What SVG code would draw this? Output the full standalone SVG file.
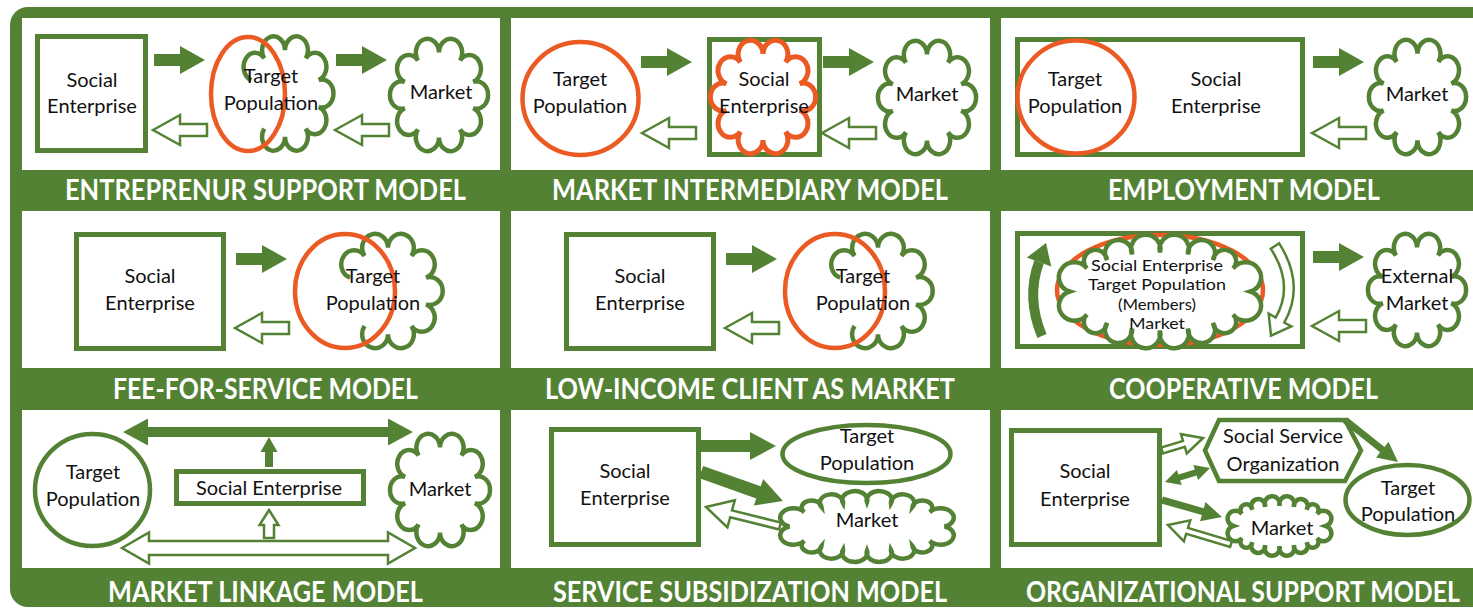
<svg xmlns="http://www.w3.org/2000/svg" width="1473" height="609" viewBox="0 0 1473 609">
<style>
.bg{fill:#548235}
.panel{fill:#fff}
.box{fill:#fff;stroke:#548235;stroke-width:5}
.gline{fill:#fff;stroke:#548235;stroke-width:4.5}
.gnone{fill:none;stroke:#548235;stroke-width:4.5}
.oline{fill:#fff;stroke:#EB5A23;stroke-width:4.5}
.onone{fill:none;stroke:#EB5A23;stroke-width:4.5}
.ocl{fill:#fff;stroke:#EB5A23;stroke-width:5}
.solid{fill:#548235}
.hollow{fill:#fff;stroke:#548235;stroke-width:2.5}
.thick{fill:none;stroke:#548235;stroke-width:10}
.t{font-family:Lato,"Open Sans","Liberation Sans",sans-serif;font-size:20px;fill:#111;text-anchor:middle}
.ts{font-size:16px}
.title{font-family:Lato,"Open Sans","Liberation Sans",sans-serif;font-weight:700;font-size:28px;fill:#fff}
</style>
<defs>
<path id="cloud" vector-effect="non-scaling-stroke" d="M0,-38 A12.3,12.3 0 1 1 22.34,-30.74 A12.3,12.3 0 1 1 36.14,-11.74 A12.3,12.3 0 1 1 36.14,11.74 A12.3,12.3 0 1 1 22.34,30.74 A12.3,12.3 0 1 1 0,38 A12.3,12.3 0 1 1 -22.34,30.74 A12.3,12.3 0 1 1 -36.14,11.74 A12.3,12.3 0 1 1 -36.14,-11.74 A12.3,12.3 0 1 1 -22.34,-30.74 A12.3,12.3 0 1 1 0,-38 Z"/>
<path id="cloudo" vector-effect="non-scaling-stroke" d="M-36.14,-11.74 A12.3,12.3 0 1 1 -22.34,-30.74 A12.3,12.3 0 1 1 0,-38 A12.3,12.3 0 1 1 22.34,-30.74 A12.3,12.3 0 1 1 36.14,-11.74 A12.3,12.3 0 1 1 36.14,11.74 A12.3,12.3 0 1 1 22.34,30.74 A12.3,12.3 0 1 1 0,38 A12.3,12.3 0 1 1 -22.34,30.74"/>
<path id="cloudw" vector-effect="non-scaling-stroke" d="M0,-36 A13,13 0 1 1 24.72,-34.24 A12,12 0 1 1 47.02,-29.12 A10.2,10.2 0 1 1 64.72,-21.16 A13.7,13.7 0 1 1 80,0 A13.7,13.7 0 1 1 64.72,21.16 A10.2,10.2 0 1 1 47.02,29.12 A12,12 0 1 1 24.72,34.24 A13,13 0 1 1 0,36 A13,13 0 1 1 -24.72,34.24 A12,12 0 1 1 -47.02,29.12 A10.2,10.2 0 1 1 -64.72,21.16 A13.7,13.7 0 1 1 -80,0 A13.7,13.7 0 1 1 -64.72,-21.16 A10.2,10.2 0 1 1 -47.02,-29.12 A12,12 0 1 1 -24.72,-34.24 A13,13 0 1 1 0,-36 Z"/>
<polygon id="arrR" points="0,-6 26,-6 26,-14 51,0 26,14 26,6 0,6"/>
<polygon id="arrL" points="0,0 27,-15 27,-6 54,-6 54,6 27,6 27,15"/>
</defs>

<rect x="0" y="0" width="1473" height="609" fill="#fff"/>
<rect class="bg" x="10" y="7" width="1500" height="600" rx="18"/>
<g id="panels">
<rect class="panel" x="22" y="18" width="478" height="152"/>
<rect class="panel" x="511" y="18" width="479" height="152"/>
<rect class="panel" x="1001" y="18" width="480" height="152"/>
<rect class="panel" x="22" y="211" width="478" height="157"/>
<rect class="panel" x="511" y="211" width="479" height="157"/>
<rect class="panel" x="1001" y="211" width="480" height="157"/>
<rect class="panel" x="22" y="410" width="478" height="158"/>
<rect class="panel" x="511" y="410" width="479" height="158"/>
<rect class="panel" x="1001" y="410" width="480" height="158"/>
</g>
<g id="titles">
<text class="title" x="65" y="200" textLength="401" lengthAdjust="spacingAndGlyphs">ENTREPRENUR SUPPORT MODEL</text>
<text class="title" x="552" y="200" textLength="396" lengthAdjust="spacingAndGlyphs">MARKET INTERMEDIARY MODEL</text>
<text class="title" x="1108" y="200" textLength="272" lengthAdjust="spacingAndGlyphs">EMPLOYMENT MODEL</text>
<text class="title" x="113" y="399" textLength="305" lengthAdjust="spacingAndGlyphs">FEE-FOR-SERVICE MODEL</text>
<text class="title" x="545" y="399" textLength="410" lengthAdjust="spacingAndGlyphs">LOW-INCOME CLIENT AS MARKET</text>
<text class="title" x="1109" y="399" textLength="269" lengthAdjust="spacingAndGlyphs">COOPERATIVE MODEL</text>
<text class="title" x="108" y="602" textLength="315" lengthAdjust="spacingAndGlyphs">MARKET LINKAGE MODEL</text>
<text class="title" x="553" y="602" textLength="394" lengthAdjust="spacingAndGlyphs">SERVICE SUBSIDIZATION MODEL</text>
<text class="title" x="1026" y="602" textLength="434" lengthAdjust="spacingAndGlyphs">ORGANIZATIONAL SUPPORT MODEL</text>
</g>

<!-- Row 1 Panel 1 -->
<g id="p1-se"><rect class="box" x="37.5" y="36.5" width="108" height="114"/><text class="t" x="92" y="87">Social</text><text class="t" x="92" y="113">Enterprise</text></g>
<g id="p1-tp"><use href="#cloudo" class="gnone" transform="translate(285,93.5) scale(0.93,1.14)"/><ellipse class="onone" cx="248" cy="94" rx="37" ry="57"/><text class="t" x="271" y="83">Target</text><text class="t" x="271" y="110">Population</text></g>
<g id="p1-mk"><use href="#cloud" class="gline" transform="translate(439,95) scale(0.942,1.12)"/><text class="t" x="441" y="99">Market</text></g>

<!-- Row 1 Panel 2 -->
<g id="p2-tp"><ellipse class="oline" cx="580.5" cy="98.5" rx="58" ry="56.5"/><text class="t" x="580" y="86">Target</text><text class="t" x="580" y="113">Population</text></g>
<g id="p2-se"><rect class="box" x="709.5" y="39.5" width="110" height="115"/><use href="#cloud" class="ocl" transform="translate(763,97) scale(1.01,1.13)"/><text class="t" x="764" y="86">Social</text><text class="t" x="764" y="113">Enterprise</text></g>
<g id="p2-mk"><use href="#cloud" class="gline" transform="translate(927,97.5) scale(0.942,1.13)"/><text class="t" x="927" y="101">Market</text></g>

<!-- Row 1 Panel 3 -->
<g id="p3-se"><rect class="box" x="1017.5" y="39.5" width="285" height="115"/><ellipse class="oline" cx="1076" cy="97" rx="58.5" ry="56.5"/><text class="t" x="1075" y="86">Target</text><text class="t" x="1075" y="113">Population</text><text class="t" x="1216" y="86">Social</text><text class="t" x="1216" y="113">Enterprise</text></g>
<g id="p3-mk"><use href="#cloud" class="gline" transform="translate(1417.5,97) scale(0.933,1.14)"/><text class="t" x="1417" y="101">Market</text></g>

<!-- Row 2 Panel 1 -->
<g id="p4-se"><rect class="box" x="76.5" y="234.5" width="147" height="114"/><text class="t" x="150" y="283">Social</text><text class="t" x="150" y="310">Enterprise</text></g>
<g id="p4-tp"><use href="#cloudo" class="gnone" transform="translate(388,291) scale(1.05,1.14)"/><ellipse class="onone" cx="345" cy="291" rx="50" ry="57"/><text class="t" x="373" y="283">Target</text><text class="t" x="373" y="310">Population</text></g>

<!-- Row 2 Panel 2 -->
<g id="p5-se"><rect class="box" x="566.5" y="234.5" width="147" height="114"/><text class="t" x="640" y="283">Social</text><text class="t" x="640" y="310">Enterprise</text></g>
<g id="p5-tp"><use href="#cloudo" class="gnone" transform="translate(878,291) scale(1.05,1.14)"/><ellipse class="onone" cx="835" cy="291" rx="50" ry="57"/><text class="t" x="863" y="283">Target</text><text class="t" x="863" y="310">Population</text></g>

<!-- Row 2 Panel 3 -->
<g id="p6-coop"><rect class="box" x="1017.5" y="233.5" width="285" height="113"/><ellipse class="oline" cx="1160" cy="290" rx="103" ry="55"/><use href="#cloudw" class="gline" transform="translate(1160,291.5) scale(1.13,1.09)"/>
<text class="t ts" x="1157" y="271" textLength="132" lengthAdjust="spacingAndGlyphs">Social Enterprise</text><text class="t ts" x="1157" y="290.3" textLength="138" lengthAdjust="spacingAndGlyphs">Target Population</text><text class="t ts" x="1157" y="309.6" textLength="78" lengthAdjust="spacingAndGlyphs">(Members)</text><text class="t ts" x="1157" y="328.9" textLength="56" lengthAdjust="spacingAndGlyphs">Market</text></g>
<g id="p6-mk"><use href="#cloud" class="gline" transform="translate(1417,290) scale(0.942,1.12)"/><text class="t" x="1417" y="283">External</text><text class="t" x="1417" y="310">Market</text></g>

<!-- Row 3 Panel 1 -->
<g id="p7-tp"><ellipse class="gline" cx="92.5" cy="490" rx="57.5" ry="56"/><text class="t" x="93" y="479">Target</text><text class="t" x="93" y="506">Population</text></g>
<g id="p7-se"><rect class="box" x="176.5" y="471.5" width="187" height="32"/><text class="t" x="269" y="495">Social Enterprise</text></g>
<g id="p7-mk"><use href="#cloud" class="gline" transform="translate(440,490) scale(0.96,1.12)"/><text class="t" x="440" y="496">Market</text></g>

<!-- Row 3 Panel 2 -->
<g id="p8-se"><rect class="box" x="551.5" y="429.5" width="147" height="115"/><text class="t" x="625" y="478">Social</text><text class="t" x="625" y="505">Enterprise</text></g>
<g id="p8-tp"><ellipse class="gline" cx="866.5" cy="454" rx="84" ry="29"/><text class="t" x="867" y="443">Target</text><text class="t" x="867" y="470">Population</text></g>
<g id="p8-mk"><use href="#cloudw" class="gline" transform="translate(867,526.5) scale(0.97,0.68)"/><text class="t" x="867" y="527">Market</text></g>

<!-- Row 3 Panel 3 -->
<g id="p9-se"><rect class="box" x="1011.5" y="430.5" width="148" height="114"/><text class="t" x="1085" y="478">Social</text><text class="t" x="1085" y="506">Enterprise</text></g>
<g id="p9-sso"><polygon class="gline" points="1205,450.5 1219,420 1345,420 1361,450.5 1345,481 1219,481"/><text class="t" x="1283" y="443">Social Service</text><text class="t" x="1283" y="471">Organization</text></g>
<g id="p9-tp"><ellipse class="gline" cx="1407.5" cy="500" rx="62" ry="35"/><text class="t" x="1408" y="495">Target</text><text class="t" x="1408" y="521">Population</text></g>
<g id="p9-mk"><use href="#cloudw" class="gline" transform="translate(1279.5,526) scale(0.58,0.57)"/><text class="t" x="1282" y="535">Market</text></g>

<g id="connectors">
<use href="#arrR" class="solid" transform="translate(154,60)"/>
<use href="#arrR" class="solid" transform="translate(336,60)"/>
<use href="#arrL" class="hollow" transform="translate(153,130)"/>
<use href="#arrL" class="hollow" transform="translate(335,130)"/>
<use href="#arrR" class="solid" transform="translate(641,62)"/>
<use href="#arrR" class="solid" transform="translate(823,62)"/>
<use href="#arrL" class="hollow" transform="translate(642,133)"/>
<use href="#arrL" class="hollow" transform="translate(822,133)"/>
<use href="#arrR" class="solid" transform="translate(1313,62)"/>
<use href="#arrL" class="hollow" transform="translate(1312,133)"/>
<use href="#arrR" class="solid" transform="translate(236,259)"/>
<use href="#arrL" class="hollow" transform="translate(235,328)"/>
<use href="#arrR" class="solid" transform="translate(726,259)"/>
<use href="#arrL" class="hollow" transform="translate(725,328)"/>
<use href="#arrR" class="solid" transform="translate(1313,257)"/>
<use href="#arrL" class="hollow" transform="translate(1312,326)"/>
<!-- cooperative cycle -->
<path class="thick" d="M1042,336 Q1026,298 1039,262"/>
<polygon class="solid" points="1046,243 1026.8,257.6 1051.2,266.4"/>
<path class="hollow" d="M1270.8,248.7 L1279.2,243.3 Q1305.5,285 1284.3,322.5 L1291.3,326.4 L1271,335.6 L1268.7,313.6 L1275.7,317.5 Q1294.5,285 1270.8,248.7 Z"/>
<!-- market linkage -->
<polygon class="solid" points="123,432 148,418.5 148,427 388,427 388,418.5 413,432 388,445.5 388,437 148,437 148,445.5"/>
<polygon class="solid" points="269,437 277.5,452 273,452 273,467 265,467 265,452 260.5,452"/>
<polygon class="hollow" points="269,510 278.5,525 274,525 274,538 264,538 264,525 259.5,525"/>
<polygon class="hollow" points="122,548 149,532.5 149,541 388,541 388,532.5 415,548 388,563.5 388,555 149,555 149,563.5"/>
<!-- service subsidization -->
<polygon class="solid" points="701,440 750,440 750,432 776,446 750,460 750,452 701,452"/>
<polygon class="solid" points="703.2,465.9 760.7,486.2 763.2,479.1 783,501 753.8,505.5 756.3,498.4 698.8,478.1"/>
<polygon class="hollow" points="706,507 734.8,500.3 732,510.4 780.9,522.6 779.1,529.4 730.2,517.2 727.4,527.3"/>
<!-- organizational support -->
<polygon class="hollow" points="1203,438 1186.8,453.4 1184.8,446.7 1162.9,453.4 1161.1,447.6 1183,440.9 1181,434.2"/>
<polygon class="solid" points="1165,482 1176.9,469.9 1178.4,474.6 1194.8,469.6 1193.3,464.9 1210,468 1198.1,480.1 1196.6,475.4 1180.2,480.4 1181.7,485.1"/>
<polygon class="solid" points="1163,496.6 1203.8,508.2 1205.5,502 1222,517 1200.1,521.2 1201.9,515 1161,503.4"/>
<polygon class="hollow" points="1168,525 1190.3,520.3 1188,527.9 1231.9,541.1 1230.1,546.9 1186.2,533.7 1183.9,541.3"/>
<polygon class="solid" points="1347.2,417.3 1384.5,446.9 1388.5,441.8 1398,462 1376.1,457.4 1380.1,452.3 1342.8,422.7"/>
</g>
</svg>
